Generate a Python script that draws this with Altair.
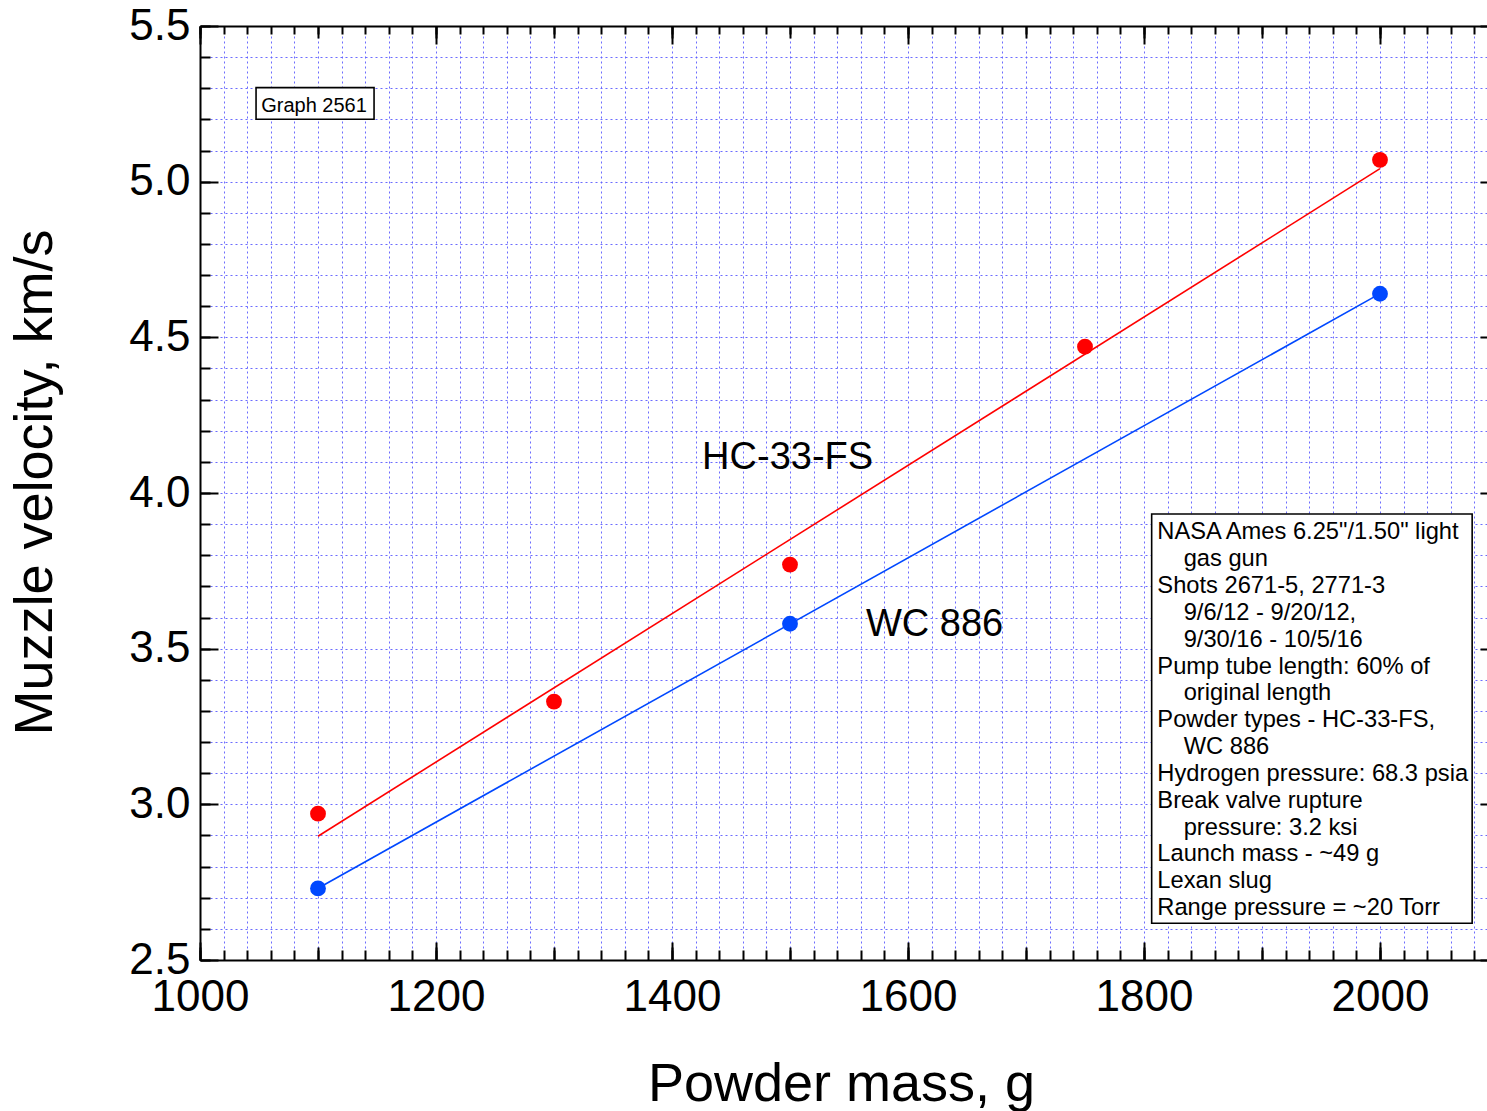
import altair as alt
import pandas as pd

# ---------------- data ----------------
hc_mass = [1100, 1300, 1500, 1750, 2000]
hc_vel = [2.97, 3.33, 3.77, 4.47, 5.07]
wc_mass = [1100, 1500, 2000]
wc_vel = [2.73, 3.58, 4.64]

x_label_vals = [1000, 1200, 1400, 1600, 1800, 2000]
y_label_vals = [2.5, 3.0, 3.5, 4.0, 4.5, 5.0, 5.5]
x_mid_vals = [1000, 1100, 1200, 1300, 1400, 1500, 1600, 1700, 1800, 1900, 2000, 2100]
x_minor_vals = list(range(1000, 2101, 20))
y_minor_vals = [round(2.5 + i / 10, 1) for i in range(31)]

series_names = ["HC-33-FS", "WC 886"]
series_label_x = [1498, 1622.5]
series_label_y = [4.076, 3.541]

tag_text = ["Graph 2561"]
tag_box_x = [1047.5, 1147.5]
tag_box_y = [5.302, 5.2003]
tag_text_x = [1096.6]
tag_text_y = [5.2247]

NB = "\u200b" + "\u00a0" * 4
info_lines = [
    "NASA Ames 6.25\"/1.50\" light",
    NB + "gas gun",
    "Shots 2671-5, 2771-3",
    NB + "9/6/12 - 9/20/12,",
    NB + "9/30/16 - 10/5/16",
    "Pump tube length: 60% of",
    NB + "original length",
    "Powder types - HC-33-FS,",
    NB + "WC 886",
    "Hydrogen pressure: 68.3 psia",
    "Break valve rupture",
    NB + "pressure: 3.2 ksi",
    "Launch mass - ~49 g",
    "Lexan slug",
    "Range pressure = ~20 Torr",
]
info_box_x = [1806.5, 2078.1]
info_box_y = [3.9325, 2.618]
info_text_x = [1811.3]
info_text_y = [3.851]

# ---------------- layout ----------------
FONT = "Liberation Sans"
W, H = 1287, 934
RX = 1298
RED = "#ff0000"
BLUE = "#0048ff"
GRID = "#5c5cff"


def xs():
    return alt.Scale(domain=[1000, 2100], range=[0, RX], nice=False, zero=False)


def ys():
    return alt.Scale(domain=[2.5, 5.5], nice=False, zero=False)


hc = pd.DataFrame({"mass": hc_mass, "vel": hc_vel})
wc = pd.DataFrame({"mass": wc_mass, "vel": wc_vel})


def tick_axis(orient, values, size, offset):
    return alt.Axis(orient=orient, values=values, tickSize=size, offset=offset,
                    labels=False, domain=False, grid=False, ticks=True,
                    tickColor="black", tickWidth=2, title=None, zindex=1)


def axis_layer(xa, ya):
    return alt.Chart(hc).mark_point(opacity=0).encode(
        x=alt.X("mass:Q", scale=xs(), axis=xa),
        y=alt.Y("vel:Q", scale=ys(), axis=ya),
    )


main_axes = axis_layer(
    alt.Axis(orient="bottom", values=x_label_vals, format="d", labelFont=FONT,
             labelFontSize=44, labelColor="black", labelPadding=50,
             labelBaseline="alphabetic", labelFlush=False, ticks=False, tickSize=0,
             domain=True, domainColor="black", domainWidth=2, grid=False,
             title="Powder mass, g", titleFont=FONT, titleFontSize=54,
             titleFontWeight="normal", titleColor="black", titleX=641, titleY=140,
             titleAlign="center", titleBaseline="alphabetic", zindex=1),
    alt.Axis(orient="left", values=y_label_vals, format=".1f", labelFont=FONT,
             labelFontSize=44, labelColor="black", labelPadding=10,
             labelFlush=False, ticks=False, tickSize=0,
             domain=True, domainColor="black", domainWidth=2, grid=False,
             title="Muzzle velocity, km/s", titleFont=FONT, titleFontSize=54,
             titleFontWeight="normal", titleColor="black", titleX=-149, titleY=456,
             titleAngle=270, titleAlign="center", titleBaseline="alphabetic", zindex=1),
)

grid_axes = axis_layer(
    alt.Axis(orient="bottom", values=x_minor_vals, grid=True, ticks=False, labels=False,
             domain=False, gridColor=GRID, gridDash=[2, 3], gridWidth=1,
             gridOpacity=0.9, title=None, zindex=0),
    alt.Axis(orient="left", values=y_minor_vals, grid=True, ticks=False, labels=False,
             domain=False, gridColor=GRID, gridDash=[2, 3], gridWidth=1,
             gridOpacity=0.9, title=None, zindex=0),
)

frame_axes = axis_layer(
    alt.Axis(orient="top", values=x_label_vals, ticks=False, labels=False, domain=True,
             domainColor="black", domainWidth=2, grid=False, title=None, zindex=1),
    alt.Axis(orient="left", offset=-RX, values=y_label_vals, ticks=True, tickSize=18,
             tickWidth=2, tickColor="black", labels=False, domain=True,
             domainColor="black", domainWidth=2, grid=False, title=None, zindex=1),
)

t4 = axis_layer(tick_axis("top", x_minor_vals, 10, -H), tick_axis("right", y_minor_vals, 10, -W))
t5 = axis_layer(tick_axis("top", x_mid_vals, 13, -H), tick_axis("right", y_label_vals, 18, -W))
t6 = axis_layer(tick_axis("top", x_label_vals, 18, -H), tick_axis("left", y_minor_vals, 10, -RX))
t7 = axis_layer(tick_axis("bottom", x_minor_vals, 8, -H), None)
t8 = axis_layer(tick_axis("bottom", x_mid_vals, 12, -H), None)
t9 = axis_layer(tick_axis("bottom", x_label_vals, 18, -H), None)


def fit_line(df, color):
    return alt.Chart(df).transform_regression("mass", "vel").mark_line(
        color=color, strokeWidth=1.6).encode(
        x=alt.X("mass:Q", scale=xs(), axis=None),
        y=alt.Y("vel:Q", scale=ys(), axis=None))


def dots(df, color):
    return alt.Chart(df).mark_circle(color=color, size=250, opacity=1).encode(
        x=alt.X("mass:Q", scale=xs(), axis=None),
        y=alt.Y("vel:Q", scale=ys(), axis=None))


labels_df = pd.DataFrame({"t": series_names, "x": series_label_x, "y": series_label_y})
series_text = alt.Chart(labels_df).mark_text(
    font=FONT, fontSize=38, color="black", align="center", baseline="alphabetic").encode(
    x=alt.X("x:Q", scale=xs(), axis=None),
    y=alt.Y("y:Q", scale=ys(), axis=None),
    text="t:N")

tag_box = alt.Chart(pd.DataFrame({"x": [tag_box_x[0]], "x2": [tag_box_x[1]],
                                  "y": [tag_box_y[0]], "y2": [tag_box_y[1]]})).mark_rect(
    fill="white", stroke="black", strokeWidth=1.6).encode(
    x=alt.X("x:Q", scale=xs(), axis=None), x2="x2",
    y=alt.Y("y:Q", scale=ys(), axis=None), y2="y2")

tag_label = alt.Chart(pd.DataFrame({"t": tag_text, "x": tag_text_x, "y": tag_text_y})).mark_text(
    font=FONT, fontSize=20, color="black", align="center", baseline="alphabetic").encode(
    x=alt.X("x:Q", scale=xs(), axis=None),
    y=alt.Y("y:Q", scale=ys(), axis=None),
    text="t:N")

info_box = alt.Chart(pd.DataFrame({"x": [info_box_x[0]], "x2": [info_box_x[1]],
                                   "y": [info_box_y[0]], "y2": [info_box_y[1]]})).mark_rect(
    fill="white", stroke="black", strokeWidth=1.6).encode(
    x=alt.X("x:Q", scale=xs(), axis=None), x2="x2",
    y=alt.Y("y:Q", scale=ys(), axis=None), y2="y2")

info_text = alt.Chart(pd.DataFrame({"x": info_text_x, "y": info_text_y})).mark_text(
    font=FONT, fontSize=23.7, color="black", align="left", baseline="alphabetic",
    lineHeight=26.84, text=info_lines).encode(
    x=alt.X("x:Q", scale=xs(), axis=None),
    y=alt.Y("y:Q", scale=ys(), axis=None))

chart = alt.layer(
    grid_axes, main_axes, frame_axes, t4, t5, t6, t7, t8, t9,
    fit_line(hc, RED), fit_line(wc, BLUE), dots(hc, RED), dots(wc, BLUE),
    series_text, tag_box, tag_label, info_box, info_text,
).resolve_scale(x="independent", y="independent").properties(
    width=W, height=H,
    autosize=alt.AutoSizeParams(type="none"),
    padding={"left": 200, "top": 26, "right": 0, "bottom": 151},
    background="white",
).configure_view(stroke=None)

chart.save("out.html", embed_options={"renderer": "svg", "actions": False})
